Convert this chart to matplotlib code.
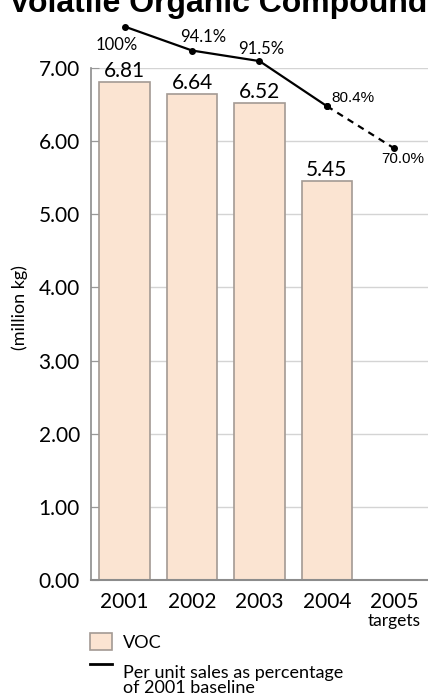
import matplotlib.pyplot as plt
from matplotlib.patches import Rectangle
from matplotlib.lines import Line2D

# data
years = ['2001', '2002', '2003', '2004', '2005']
voc = [6.81, 6.64, 6.52, 5.45]
pct = [100.0, 94.1, 91.5, 80.4, 70.0]
pct_labels = ['100%', '94.1%', '91.5%', '80.4%', '70.0%']
yticks = [0, 1, 2, 3, 4, 5, 6, 7]

FONT = 'Lato'
BAR_FACE = '#fbe4d2'
BAR_EDGE = '#a39a94'
W, H = 428, 697

fig = plt.figure(figsize=(W / 100, H / 100), dpi=100)
ax = fig.add_axes([91 / W, 117 / H, 337 / W, 512 / H])

x = list(range(len(years)))
bars = ax.bar(x[:len(voc)], voc, width=0.75, color=BAR_FACE,
              edgecolor=BAR_EDGE, linewidth=1.2, zorder=2)
for b, v in zip(bars, voc):
    ax.annotate(f'{v:.2f}', (b.get_x() + b.get_width() / 2, v),
                xytext=(0, 1), textcoords='offset points',
                ha='center', va='bottom', fontsize=15, family=FONT)

ax.set_xlim(-0.5, 4.5)
ax.set_ylim(0, 7)
ax.set_yticks(yticks)
ax.set_yticklabels([f'{t:.2f}' for t in yticks], fontsize=15, family=FONT)
ax.set_xticks(x)
ax.set_xticklabels(years, fontsize=15, family=FONT)
ax.tick_params(axis='x', length=0, pad=9)
ax.tick_params(axis='y', direction='in', length=6, color='#999999', pad=8)
ax.grid(axis='y', color='#d4d4d4', linewidth=1, zorder=0)
ax.set_axisbelow(True)
for s in ['top', 'right']:
    ax.spines[s].set_visible(False)
ax.spines['left'].set_color('#8c8c8c')
ax.spines['bottom'].set_color('#8c8c8c')
ax.spines['left'].set_linewidth(1.2)
ax.spines['bottom'].set_linewidth(1.5)
ax.set_ylabel('(million kg)', fontsize=13, family=FONT)
ax.yaxis.set_label_coords(-0.187, 0.533)

ax.text(4, -0.56, 'targets', ha='center', va='center', fontsize=12.5, family=FONT)

# percentage line on its own scale
ax2 = ax.twinx()
ax2.set_ylim(-36.3, 89.8)
ax2.axis('off')
ax2.plot(x[:4], pct[:4], color='black', lw=1.6, marker='o', ms=4, clip_on=False, zorder=5)
ax2.plot(x[3:], pct[3:], color='black', lw=1.6, ls=(0, (3, 2.5)), marker='o', ms=4,
         clip_on=False, zorder=5)
offsets = [(-6, -13), (8, 9.5), (1.5, 8.5), (19, 6), (6, -7.5)]
fonts = [FONT, FONT, FONT, 'Liberation Sans', 'Liberation Sans']
for i, (lab, off) in enumerate(zip(pct_labels, offsets)):
    ax2.annotate(lab, (x[i], pct[i]), xytext=off, textcoords='offset points',
                 ha='center', va='center', fontsize=12 if i < 3 else 11,
                 family=fonts[i], annotation_clip=False)

fig.text(227 / W, 1 - 12 / H, 'Volatile Organic Compounds', ha='center',
         va='baseline', fontsize=23, fontweight='bold', family='Liberation Sans')

# legend drawn by hand so the line key sits beside the first text line
fig.add_artist(Rectangle((90 / W, 1 - 650 / H), 22 / W, 17 / H,
                         transform=fig.transFigure, facecolor=BAR_FACE,
                         edgecolor=BAR_EDGE, linewidth=1.2))
fig.text(123 / W, 1 - 643 / H, 'VOC', ha='left', va='center', fontsize=13, family=FONT)
fig.add_artist(Line2D([90 / W, 112 / W], [1 - 664 / H, 1 - 664 / H],
                      transform=fig.transFigure, color='black', lw=2))
fig.text(123 / W, 1 - 665 / H, 'Per unit sales as percentage\nof 2001 baseline',
         ha='left', va='top', fontsize=13, family=FONT, linespacing=0.9)

fig.savefig('out.png', dpi=100)
